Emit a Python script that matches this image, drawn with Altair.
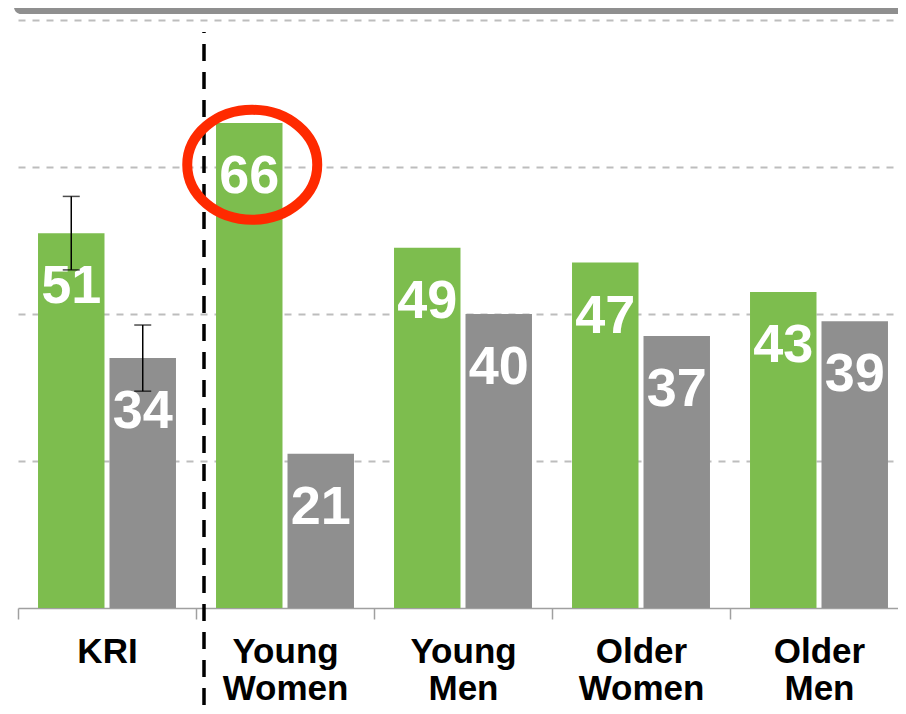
import altair as alt
import pandas as pd

# ---- data ----
categories = ["KRI", "Young Women", "Young Men", "Older Women", "Older Men"]
series_names = ["Group A", "Group B"]
green_values = [51, 66, 49, 47, 43]
gray_values = [34, 21, 40, 37, 39]

err_category = ["KRI", "KRI"]
err_series = ["Group A", "Group B"]
err_low = [46, 29.5]
err_high = [56, 38.5]

grid_values = [20, 40, 60, 80]

# highlight annotation (anchored to Young Women / Group A)
highlight_category = ["Young Women"]
highlight_series = ["Group A"]
highlight_value = [60.3]

GREEN = "#7dbd4e"
GRAY = "#8f8f8f"
FONT = "Liberation Sans"

rows = []
for c, g, r in zip(categories, green_values, gray_values):
    rows.append({"category": c, "series": series_names[0], "value": g})
    rows.append({"category": c, "series": series_names[1], "value": r})
df = pd.DataFrame(rows)
err_df = pd.DataFrame({"category": err_category, "series": err_series,
                       "low": err_low, "high": err_high})
hl_df = pd.DataFrame({"category": highlight_category, "series": highlight_series,
                      "value": highlight_value})
one = pd.DataFrame({"a": [0]})

x_axis = alt.Axis(labelAngle=0, labelFont=FONT, labelFontSize=35, labelFontWeight="bold",
                  labelColor="black", labelPadding=15, labelLineHeight=37, labelLimit=400,
                  labelExpr="split(datum.label, ' ')", tickBand="extent", tickSize=11,
                  tickColor="#a0a0a0", tickWidth=1.5, domainColor="#a0a0a0", domainWidth=1.5,
                  grid=False, title=None)
x_enc = alt.X("category:N", sort=categories, title=None,
              scale=alt.Scale(paddingInner=0, paddingOuter=0, range=[0, 890]), axis=x_axis)
xoff = alt.XOffset("series:N", sort=series_names,
                   scale=alt.Scale(paddingInner=0.07, paddingOuter=0.28))
y_scale = alt.Scale(domain=[0, 80], nice=False)
y_axis = alt.Axis(values=grid_values, grid=True, gridDash=[7, 7], gridColor="#bdbdbd",
                  gridWidth=2, labels=False, ticks=False, domain=False, title=None)


def yq(field):
    return alt.Y(f"{field}:Q", scale=y_scale, axis=y_axis, title=None)


header = alt.Chart(one).mark_rect(color=GRAY, cornerRadiusBottomLeft=12).encode(
    x=alt.value(-4), x2=alt.value(900), y=alt.value(-20), y2=alt.value(-6))

bars = alt.Chart(df).mark_bar().encode(
    x=x_enc, xOffset=xoff, y=yq("value"),
    color=alt.Color("series:N", scale=alt.Scale(domain=series_names, range=[GREEN, GRAY]),
                    legend=None))

labels = alt.Chart(df).mark_text(baseline="alphabetic", dy=70, font=FONT, fontSize=54,
                                 fontWeight="bold", color="white").encode(
    x=x_enc, xOffset=xoff, y=yq("value"), text="value:Q")

err_rule = alt.Chart(err_df).mark_rule(color="black", strokeWidth=1.5).encode(
    x=x_enc, xOffset=xoff, y=yq("low"), y2="high:Q")
err_lo = alt.Chart(err_df).mark_tick(color="black", thickness=1.5, size=17,
                                     orient="horizontal").encode(
    x=x_enc, xOffset=xoff, y=yq("low"))
err_hi = alt.Chart(err_df).mark_tick(color="black", thickness=1.5, size=17,
                                     orient="horizontal").encode(
    x=x_enc, xOffset=xoff, y=yq("high"))

divider = alt.Chart(one).mark_rule(color="black", strokeWidth=3.5, strokeDash=[17, 11],
                                   strokeDashOffset=16).encode(
    x=alt.value(186), y=alt.value(12), y2=alt.value(700))

ELLIPSE = "M-0.954,0 A1,0.846 0 1,1 1.046,0 A1,0.846 0 1,1 -0.954,0 Z"
ellipse = alt.Chart(hl_df).mark_point(shape=ELLIPSE, size=16900, filled=False,
                                      color="#ff2a00", strokeWidth=10, opacity=1).encode(
    x=x_enc, xOffset=xoff, y=yq("value"))

chart = alt.layer(header, bars, labels, err_rule, err_lo, err_hi, divider, ellipse).properties(
    width=880, height=588,
    autosize=alt.AutoSizeParams(type="none"),
    padding={"left": 10, "top": 12, "right": 0, "bottom": 98},
    background="white",
).configure_view(stroke=None)

chart.save("out.html", embed_options={"renderer": "svg", "actions": False})
